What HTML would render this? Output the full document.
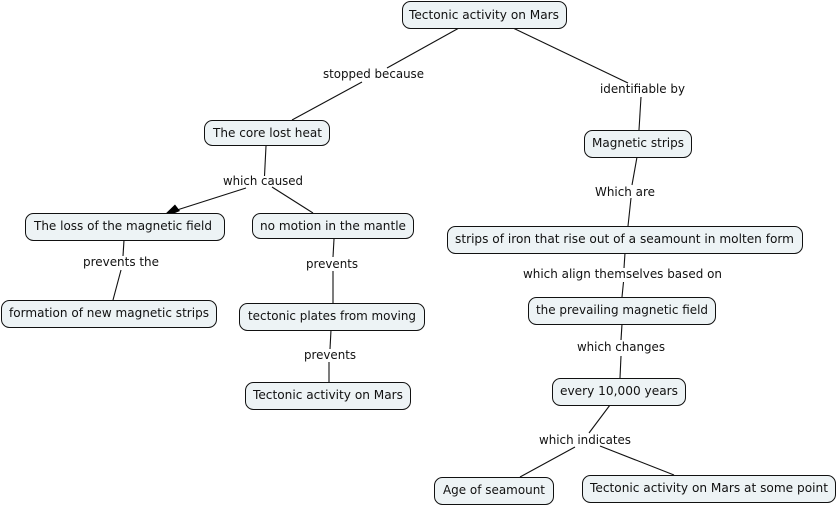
<!DOCTYPE html>
<html><head><meta charset="utf-8"><style>
html,body{margin:0;padding:0;background:#fff;width:838px;height:506px;overflow:hidden}
svg{display:block}
rect{fill:#edf3f5;stroke:#111;stroke-width:1}
line{stroke:#111;stroke-width:1.1}
text{font-family:"DejaVu Sans","Liberation Sans",sans-serif;font-size:12.6px;fill:#111;text-anchor:start}
</style></head><body>
<svg width="838" height="506" viewBox="0 0 838 506" xmlns="http://www.w3.org/2000/svg">
<line x1="459" y1="28" x2="387" y2="68"/>
<line x1="362" y1="82" x2="292" y2="120"/>
<line x1="513" y1="28" x2="628" y2="83"/>
<line x1="641" y1="97" x2="639" y2="130"/>
<line x1="266" y1="146" x2="264.500" y2="176"/>
<line x1="246" y1="188" x2="177" y2="210"/>
<polygon points="160,219 175,204.500 180,211" fill="#000"/>
<line x1="272" y1="187" x2="313" y2="213"/>
<line x1="124" y1="240" x2="123" y2="256"/>
<line x1="121" y1="270" x2="113" y2="300"/>
<line x1="334" y1="239" x2="333" y2="257"/>
<line x1="333" y1="271" x2="333" y2="303"/>
<line x1="331" y1="330" x2="330" y2="349"/>
<line x1="329" y1="362" x2="329" y2="382"/>
<line x1="637" y1="157" x2="632" y2="185"/>
<line x1="631" y1="198" x2="628" y2="226"/>
<line x1="625" y1="253" x2="624" y2="268"/>
<line x1="623.500" y1="282" x2="622" y2="297"/>
<line x1="622" y1="324" x2="621" y2="340"/>
<line x1="621" y1="356" x2="620" y2="378"/>
<line x1="610" y1="405" x2="589" y2="433"/>
<line x1="575" y1="447" x2="520" y2="477"/>
<line x1="600" y1="446" x2="674" y2="475"/>
<rect x="402.500" y="1.500" width="164" height="27" rx="8"/>
<text x="409" y="19" textLength="150" lengthAdjust="spacingAndGlyphs">Tectonic activity on Mars</text>
<rect x="204.500" y="120.500" width="125" height="25" rx="8"/>
<text x="213" y="137" textLength="109" lengthAdjust="spacingAndGlyphs">The core lost heat</text>
<rect x="584.500" y="130.500" width="107" height="27" rx="8"/>
<text x="592" y="147" textLength="92" lengthAdjust="spacingAndGlyphs">Magnetic strips</text>
<rect x="25.500" y="213.500" width="199" height="27" rx="8"/>
<text x="34" y="230" textLength="178" lengthAdjust="spacingAndGlyphs">The loss of the magnetic field</text>
<rect x="252.500" y="213.500" width="161" height="25" rx="8"/>
<text x="260" y="230" textLength="146" lengthAdjust="spacingAndGlyphs">no motion in the mantle</text>
<rect x="447.500" y="226.500" width="355" height="27" rx="8"/>
<text x="455" y="243" textLength="339" lengthAdjust="spacingAndGlyphs">strips of iron that rise out of a seamount in molten form</text>
<rect x="1.500" y="300.500" width="215" height="27" rx="8"/>
<text x="9" y="317" textLength="200" lengthAdjust="spacingAndGlyphs">formation of new magnetic strips</text>
<rect x="239.500" y="303.500" width="185" height="27" rx="8"/>
<text x="248" y="320" textLength="168" lengthAdjust="spacingAndGlyphs">tectonic plates from moving</text>
<rect x="528.500" y="297.500" width="187" height="27" rx="8"/>
<text x="536" y="314" textLength="172" lengthAdjust="spacingAndGlyphs">the prevailing magnetic field</text>
<rect x="245.500" y="382.500" width="165" height="27" rx="8"/>
<text x="253" y="399" textLength="150" lengthAdjust="spacingAndGlyphs">Tectonic activity on Mars</text>
<rect x="552.500" y="378.500" width="133" height="27" rx="8"/>
<text x="560" y="395" textLength="118" lengthAdjust="spacingAndGlyphs">every 10,000 years</text>
<rect x="434.500" y="477.500" width="119" height="27" rx="8"/>
<text x="443" y="494" textLength="102" lengthAdjust="spacingAndGlyphs">Age of seamount</text>
<rect x="582.500" y="475.500" width="253" height="27" rx="8"/>
<text x="590" y="492" textLength="238" lengthAdjust="spacingAndGlyphs">Tectonic activity on Mars at some point</text>
<text x="323" y="78" textLength="101" lengthAdjust="spacingAndGlyphs">stopped because</text>
<text x="600" y="93" textLength="85" lengthAdjust="spacingAndGlyphs">identifiable by</text>
<text x="223" y="185" textLength="80" lengthAdjust="spacingAndGlyphs">which caused</text>
<text x="595" y="196" textLength="60" lengthAdjust="spacingAndGlyphs">Which are</text>
<text x="83" y="266" textLength="76" lengthAdjust="spacingAndGlyphs">prevents the</text>
<text x="306" y="268" textLength="52" lengthAdjust="spacingAndGlyphs">prevents</text>
<text x="523" y="278" textLength="199" lengthAdjust="spacingAndGlyphs">which align themselves based on</text>
<text x="577" y="351" textLength="88" lengthAdjust="spacingAndGlyphs">which changes</text>
<text x="304" y="359" textLength="52" lengthAdjust="spacingAndGlyphs">prevents</text>
<text x="539" y="444" textLength="92" lengthAdjust="spacingAndGlyphs">which indicates</text>
</svg>
</body></html>
